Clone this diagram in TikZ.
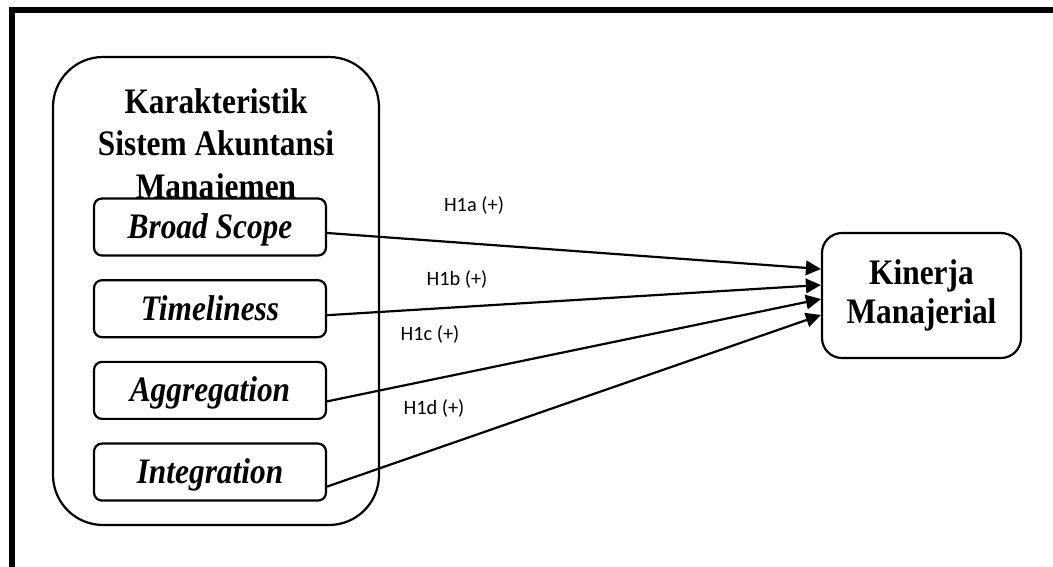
\documentclass[tikz,border=0pt]{standalone}
\usepackage{fontspec}
\setmainfont{Liberation Serif}[FakeStretch=0.875]
\newfontfamily\hypfont{Carlito}
\usetikzlibrary{arrows.meta,positioning}

\begin{document}
\begin{tikzpicture}[
        node distance=.45cm and .5cm,
        every path/.style={line width=1.25pt},
        bigbox/.style={draw, rounded corners=1cm, minimum width=6.52cm, minimum height=9.36cm},
        heading/.style={align=center, inner sep=0pt, font=\fontsize{20.4}{24.1}\selectfont\bfseries},
        varbox/.style={draw, rounded corners=.16cm, fill=white, minimum width=4.64cm, minimum height=1.14cm, inner sep=0pt, text height=.46cm, text depth=0pt, font=\fontsize{20.4}{24}\selectfont\bfseries\itshape},
        result/.style={draw, rounded corners=.4cm, align=center, minimum width=3.98cm, minimum height=2.5cm, font=\fontsize{20.4}{22.1}\selectfont\bfseries},
        hyp/.style={font=\hypfont\fontsize{11.6}{14}\selectfont},
        arr/.style={-{Triangle[length=.3cm,width=.29cm]}}
    ]
    \useasboundingbox (0,0) rectangle (21.06,11.34);

    % Frame
    \draw[line width=3.4pt] (0.24,0) -- (0.24,11.14) -- (21.06,11.14);

    % Nodes
    \node (sam) [bigbox] at (4.32,5.52) {};
    \node (title) [heading, below=.63cm of sam.north] {Karakteristik \\
        Sistem Akuntansi \\
        Manajemen};

    \node (scope) [varbox] at (4.2,6.8) {Broad Scope};
    \node (time) [varbox, below=of scope] {Timeliness};
    \node (aggr) [varbox, below=of time] {Aggregation};
    \node (integ) [varbox, below=of aggr] {Integration};

    \node (kinerja) [result] at (18.43,5.43) {Kinerja \\ Manajerial};

    \node (ha) [hyp] at (9.48,7.24) {H1a (+)};
    \node (hb) [hyp] at (9.14,5.76) {H1b (+)};
    \node (hc) [hyp] at (8.6,4.66) {H1c (+)};
    \node (hd) [hyp] at (8.68,3.18) {H1d (+)};

    % Edges
    \draw[arr] ([yshift=-.12cm]scope.east) -- ([yshift=.53cm]kinerja.west);
    \draw[arr] ([yshift=-.13cm]time.east) -- ([yshift=.21cm]kinerja.west);
    \draw[arr] ([yshift=-.22cm]aggr.east) -- ([yshift=-.07cm]kinerja.west);
    \draw[arr] ([yshift=-.29cm]integ.east) -- ([yshift=-.39cm]kinerja.west);

\end{tikzpicture}
\end{document}
